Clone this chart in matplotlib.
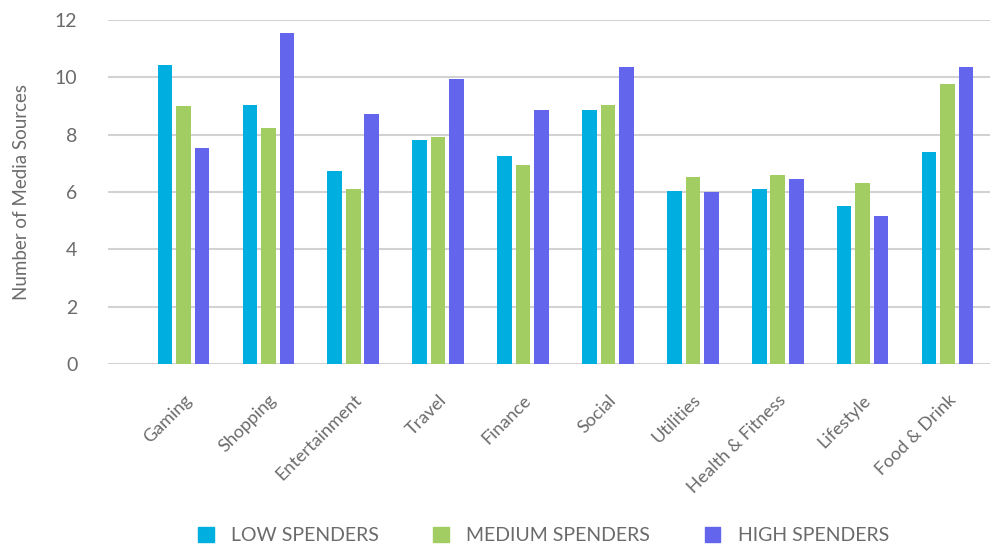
import numpy as np
import matplotlib
matplotlib.use("Agg")
from matplotlib import pyplot as plt
from matplotlib.patches import Patch

plt.rcParams['font.family'] = ['Lato', 'DejaVu Sans']

categories = ['Gaming', 'Shopping', 'Entertainment', 'Travel', 'Finance',
              'Social', 'Utilities', 'Health & Fitness', 'Lifestyle', 'Food & Drink']
low = [10.43, 9.03, 6.74, 7.81, 7.25, 8.85, 6.03, 6.12, 5.51, 7.39]
medium = [9.0, 8.23, 6.11, 7.94, 6.93, 9.03, 6.52, 6.61, 6.32, 9.76]
high = [7.53, 11.54, 8.71, 9.93, 8.86, 10.37, 6.02, 6.45, 5.15, 10.36]
series_names = ['LOW SPENDERS', 'MEDIUM SPENDERS', 'HIGH SPENDERS']
colors = ['#00AFE0', '#A2CD62', '#6366EC']
text_col = '#6b6b6b'

fig = plt.figure(figsize=(9.9, 5.45), dpi=100)
ax = fig.add_axes([0.109, 0.332, 0.891, 0.631])

x = np.arange(len(categories))
step = 0.218
width = 0.172
for i, (vals, c) in enumerate(zip([low, medium, high], colors)):
    ax.bar(x + (i - 1) * step, vals, width=width, color=c, zorder=3)

ax.set_xlim(-0.89, 9.5)
ax.set_ylim(0, 12)
ax.set_yticks(range(0, 13, 2))
ax.yaxis.grid(True, color='#d2d2d2', linewidth=1.5, zorder=0)
for s in ['top', 'right', 'left', 'bottom']:
    ax.spines[s].set_visible(False)
ax.tick_params(axis='both', length=0, colors=text_col, labelsize=13)
ax.tick_params(axis='y', pad=22, labelsize=14)
ax.set_xticks(x)
ax.set_xticklabels(categories, rotation=45, ha='right', rotation_mode='anchor')
ax.tick_params(axis='x', pad=20)
ax.set_ylabel('Number of Media Sources', color=text_col, fontsize=13.5, labelpad=18)

handles = [Patch(color=c) for c in colors]
fig.legend(handles, series_names, loc='lower center', bbox_to_anchor=(0.549, -0.03),
           ncol=3, frameon=False, fontsize=14, labelcolor=text_col,
           handlelength=0.8, handleheight=0.8, columnspacing=2.8, handletextpad=0.9)

fig.savefig('out.png', dpi=100)
